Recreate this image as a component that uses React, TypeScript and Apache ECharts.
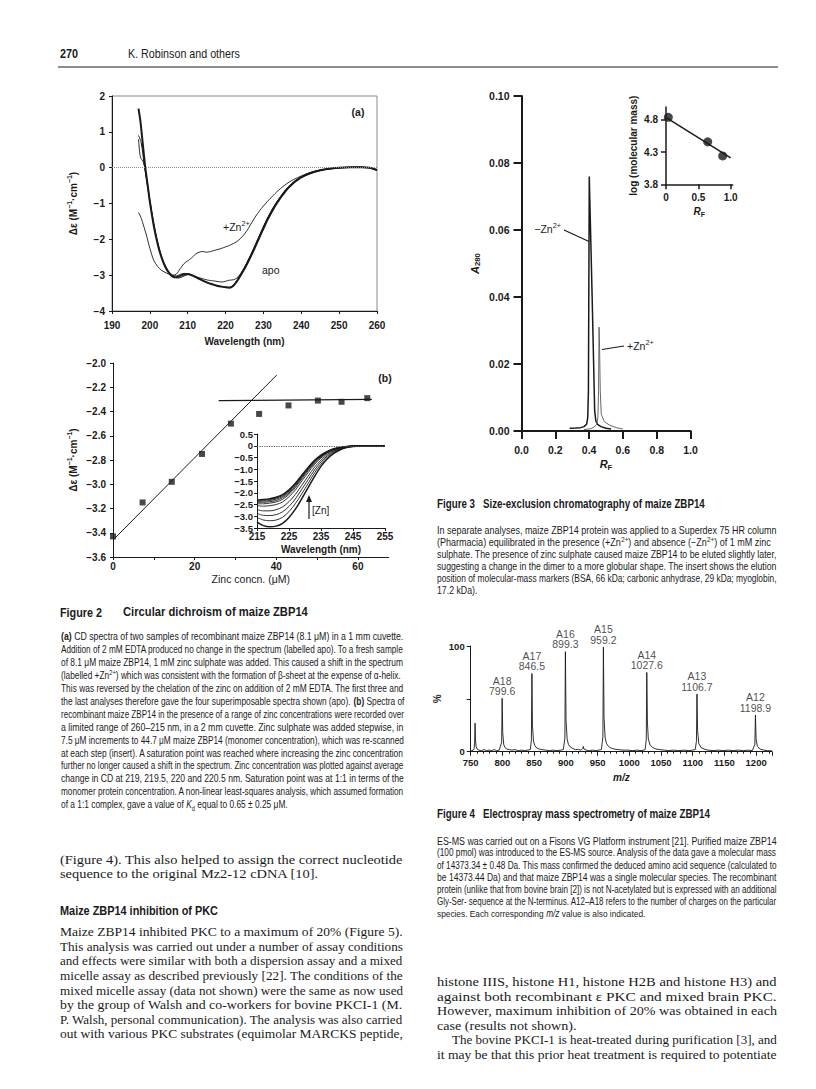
import React, { useEffect, useRef } from 'react';
import * as echarts from 'echarts';

// ---------------- DATA ----------------
// Figure 2(a): CD spectra [wavelength nm, delta-epsilon]
const fig2aApoA = [[197,1.65],[197.5,1.3],[198,0.8],[198.8,0],[199.5,-0.55],[200,-0.95],[201,-1.6],[202,-2.1],[203,-2.48],[204,-2.75],[205,-2.93],[206,-3.04],[207,-3.06],[208,-3.02],[209,-2.98],[210,-2.97],[211,-3.0],[212,-3.05],[213,-3.1],[214,-3.15],[215,-3.2],[216,-3.24],[217,-3.27],[218,-3.3],[219,-3.32],[220,-3.34],[221,-3.35],[222,-3.3],[223,-3.17],[224,-3.0],[225,-2.82],[226,-2.62],[227,-2.4],[228,-2.17],[229,-1.93],[230,-1.7],[231,-1.47],[232,-1.27],[233,-1.08],[234,-0.92],[235,-0.77],[236,-0.63],[237,-0.52],[238,-0.42],[239,-0.34],[240,-0.27],[242,-0.17],[244,-0.1],[246,-0.05],[248,-0.02],[250,0],[253,0.01],[256,0.01],[258,0],[260,-0.07]];
const fig2aApoB = [[197,0.9],[197.7,0.7],[198.5,0.1],[199.5,-0.6],[200.5,-1.25],[201.5,-1.85],[202.5,-2.3],[203.5,-2.62],[204.5,-2.85],[205.5,-2.98],[206.5,-3.05],[207.5,-3.08],[208.5,-3.05],[209.5,-3.0],[210.5,-2.98],[211.5,-3.02],[212.5,-3.08],[213.5,-3.13],[214.5,-3.18],[215.5,-3.22],[216.5,-3.26],[217.5,-3.29],[218.5,-3.31],[219.5,-3.33],[220.5,-3.34],[221.5,-3.32],[222.5,-3.22],[223.5,-3.06],[224.5,-2.88],[225.5,-2.68],[226.5,-2.46],[227.5,-2.24],[228.5,-2.0],[229.5,-1.77],[230.5,-1.54],[231.5,-1.33],[232.5,-1.14],[233.5,-0.97],[234.5,-0.82],[235.5,-0.68],[236.5,-0.56],[237.5,-0.46],[238.5,-0.37],[240,-0.27],[242,-0.18],[244,-0.11],[246,-0.06],[248,-0.02],[250,0],[254,0.01],[258,0],[260,-0.08]];
const fig2aApoC = [[197,0.8],[197.5,0.3],[198.3,0.15],[199,-0.2],[200,-0.9],[201,-1.55],[202,-2.05],[203,-2.45],[204,-2.72],[205,-2.9],[206,-3.0],[207,-3.02],[208,-2.98],[209,-2.95],[210,-2.96],[211,-2.99],[212,-3.03],[213,-3.07],[214,-3.1],[215,-3.13],[216,-3.15],[217,-3.16],[218,-3.18],[219,-3.19],[220,-3.17],[221,-3.14],[222,-3.13],[223,-3.08],[224,-2.95],[225,-2.78],[226,-2.58],[227,-2.36],[228,-2.12],[229,-1.88],[230,-1.64],[231,-1.42],[232,-1.22],[233,-1.04],[234,-0.88],[235,-0.73],[236,-0.6],[237,-0.49],[238,-0.39],[240,-0.25],[242,-0.15],[244,-0.09],[246,-0.05],[248,-0.03],[250,-0.01],[254,0.01],[258,0],[260,-0.06]];
const fig2aZn = [[197,-1.25],[197.5,-1.35],[198,-1.5],[199,-1.85],[200,-2.25],[201,-2.58],[202,-2.75],[203,-2.86],[204,-2.92],[205,-2.97],[206,-3.0],[207,-2.97],[208,-2.82],[209,-2.68],[210,-2.6],[211,-2.52],[212,-2.42],[213,-2.36],[214,-2.34],[215,-2.36],[216,-2.34],[217,-2.31],[218,-2.28],[219,-2.25],[220,-2.21],[221,-2.17],[222,-2.12],[223,-2.06],[224,-1.97],[225,-1.85],[226,-1.7],[227,-1.52],[228,-1.35],[229,-1.2],[230,-1.07],[231,-0.95],[232,-0.84],[233,-0.73],[234,-0.63],[235,-0.54],[236,-0.46],[237,-0.39],[238,-0.33],[240,-0.23],[242,-0.15],[244,-0.09],[246,-0.05],[248,-0.02],[250,0],[254,0.01],[258,0],[260,-0.06]];

// Figure 2(b): titration
const fig2bConc = [0, 7.25, 14.4, 21.8, 28.9, 35.8, 43.0, 50.2, 56.0, 62.3];
const fig2bDeltaEps = [-3.43, -3.15, -2.98, -2.75, -2.5, -2.42, -2.35, -2.31, -2.32, -2.29];
const fig2bFitRise = [[0, -3.46], [40.1, -2.1]];
const fig2bFitPlateau = [[25.9, -2.31], [63.4, -2.3]];

// Figure 2(b) insert: spectra at increasing [Zn]
const insetWavelengths = [215,217,219,221,223,225,227,229,231,233,235,237,239,241,243,245,250,255];
const insetSpectra = [
  [-3.25,-3.40,-3.45,-3.42,-3.30,-3.05,-2.70,-2.25,-1.78,-1.30,-0.88,-0.55,-0.32,-0.17,-0.08,-0.03,0,0],
  [-3.05,-3.16,-3.19,-3.16,-3.04,-2.80,-2.46,-2.04,-1.60,-1.15,-0.78,-0.48,-0.28,-0.15,-0.07,-0.03,0,0],
  [-2.88,-2.96,-2.97,-2.93,-2.81,-2.58,-2.26,-1.85,-1.44,-1.03,-0.69,-0.43,-0.24,-0.13,-0.06,-0.02,0,0],
  [-2.72,-2.77,-2.77,-2.72,-2.60,-2.38,-2.07,-1.68,-1.29,-0.91,-0.61,-0.37,-0.21,-0.11,-0.05,-0.02,0,0],
  [-2.55,-2.57,-2.55,-2.50,-2.39,-2.17,-1.88,-1.50,-1.14,-0.79,-0.52,-0.32,-0.18,-0.095,-0.04,-0.015,0,0],
  [-2.47,-2.47,-2.44,-2.39,-2.28,-2.07,-1.78,-1.41,-1.06,-0.73,-0.48,-0.29,-0.16,-0.09,-0.04,-0.01,0,0],
  [-2.42,-2.41,-2.38,-2.33,-2.21,-2.01,-1.72,-1.36,-1.01,-0.69,-0.45,-0.27,-0.15,-0.08,-0.04,-0.01,0,0],
  [-2.38,-2.36,-2.33,-2.27,-2.16,-1.96,-1.67,-1.32,-0.98,-0.66,-0.43,-0.26,-0.14,-0.075,-0.035,-0.01,0,0],
  [-2.35,-2.32,-2.29,-2.23,-2.12,-1.92,-1.63,-1.28,-0.95,-0.64,-0.41,-0.25,-0.135,-0.07,-0.03,-0.01,0,0],
  [-2.32,-2.29,-2.25,-2.19,-2.08,-1.88,-1.60,-1.25,-0.92,-0.62,-0.40,-0.24,-0.13,-0.07,-0.03,-0.01,0,0],
];

// Figure 3: size-exclusion chromatography [RF, A280]
const fig3MinusZn = [[0.285,0.0008],[0.32,0.0009],[0.35,0.001],[0.37,0.0013],[0.385,0.002],[0.392,0.004],[0.396,0.012],[0.399,0.05],[0.401,0.076],[0.418,0.04],[0.433,0.006],[0.44,0.003],[0.45,0.002],[0.47,0.0013],[0.5,0.0008],[0.53,0.0006]];
const fig3PlusZn = [[0.37,0.0004],[0.41,0.0007],[0.43,0.0012],[0.445,0.002],[0.452,0.004],[0.456,0.012],[0.459,0.031],[0.462,0.025],[0.466,0.012],[0.472,0.005],[0.49,0.0028],[0.52,0.0018],[0.56,0.001],[0.6,0.0006]];
// Figure 3 insert: molecular-mass markers
const markerRF = [0.036, 0.645, 0.876];
const markerLogMass = [4.84, 4.46, 4.24];
const markerFit = [[0.01, 4.83], [1.0, 4.21]];

// Figure 4: ES-MS spectrum [m/z, %]
const fig4Spectrum = [[750,0.5],[752,1],[754,1.5],[755.5,3],[756.3,10],[756.9,27],[757.5,12],[758.5,5],[760,2.5],[763,1.5],[767,1],[771,2],[775,1],[779,1.5],[783,1],[787,2],[791,1],[795,1.5],[798.8,9],[799.6,50.5],[800.5,18],[802,7],[804,4],[807,2.5],[811,2],[815,1.5],[820,2],[825,1],[830,1.5],[835,1],[840,1.5],[844,2],[845.7,11],[846.5,74],[847.4,25],[849,10],[851,6],[854,3.5],[858,2.5],[862,2],[868,1.5],[874,1],[880,1.5],[886,1],[892,1.5],[896,2],[898.5,13],[899.3,94.6],[900.3,30],[902,12],[904,7],[907,4.5],[911,3],[915,2],[920,2],[924,1.5],[926.5,3],[927.5,5],[928.5,2.5],[932,1.5],[937,1],[942,1.5],[947,1],[952,1.5],[956,2],[958.4,14],[959.2,99],[960.2,32],[962,13],[964,8],[967,5],[971,3.5],[976,2.5],[982,2],[990,1.5],[998,1.5],[1005,1],[1012,1.5],[1020,1],[1025,2],[1026.8,12],[1027.6,75],[1028.6,28],[1030,12],[1033,6],[1037,4],[1042,2.5],[1048,2],[1055,1.5],[1062,1],[1070,1.5],[1078,1],[1086,1.5],[1094,1],[1100,1.5],[1104,2],[1105.9,10],[1106.7,54.6],[1107.7,20],[1109.5,8],[1113,4],[1118,2.5],[1124,1.5],[1132,1],[1140,1.5],[1148,1],[1156,1.5],[1164,1],[1172,1.5],[1180,1],[1188,1.5],[1194,1],[1198,7],[1198.9,34.7],[1199.9,12],[1202,5],[1206,2.5],[1212,1.5],[1218,1],[1225,0.8]];
const fig4Ions = ['A18','A17','A16','A15','A14','A13','A12'];
const fig4PeakMz = [799.6, 846.5, 899.3, 959.2, 1027.6, 1106.7, 1198.9];
const fig4PeakPct = [50.5, 74, 94.6, 99, 75, 54.6, 34.7];

// Tick labels
const fig2bTickValues = [0, 10, 20, 30, 40, 50, 60];
const fig2bLabelValues = [0, 20, 40, 60];
const insetXTicks = [215, 225, 235, 245, 255];
const fig3InsetX = [0, 0.5, 1.0];
const fig3InsetY = [3.8, 4.3, 4.8];
const fig4YTicks = [0, 50, 100];
const fig4YLabels = [0, 100];

// Texts
const pageNumber = '270';
const runningHead = 'K. Robinson and others';
const fig2Title = 'Circular dichroism of maize ZBP14';
const fig3Title = 'Size-exclusion chromatography of maize ZBP14';
const fig4Title = 'Electrospray mass spectrometry of maize ZBP14';
const fig2Caption = [
  '{b|(a)} CD spectra of two samples of recombinant maize ZBP14 (8.1 μM) in a 1 mm cuvette.',
  'Addition of 2 mM EDTA produced no change in the spectrum (labelled apo). To a fresh sample',
  'of 8.1 μM maize ZBP14, 1 mM zinc sulphate was added. This caused a shift in the spectrum',
  '(labelled +Zn{sup|2+}) which was consistent with the formation of β-sheet at the expense of α-helix.',
  'This was reversed by the chelation of the zinc on addition of 2 mM EDTA. The first three and',
  'the last analyses therefore gave the four superimposable spectra shown (apo). {b|(b)} Spectra of',
  'recombinant maize ZBP14 in the presence of a range of zinc concentrations were recorded over',
  'a limited range of 260–215 nm, in a 2 mm cuvette. Zinc sulphate was added stepwise, in',
  '7.5 μM increments to 44.7 μM maize ZBP14 (monomer concentration), which was re-scanned',
  'at each step (insert). A saturation point was reached where increasing the zinc concentration',
  'further no longer caused a shift in the spectrum. Zinc concentration was plotted against average',
  'change in CD at 219, 219.5, 220 and 220.5 nm. Saturation point was at 1:1 in terms of the',
  'monomer protein concentration. A non-linear least-squares analysis, which assumed formation',
  'of a 1:1 complex, gave a value of {i|K}{sub|d} equal to 0.65 ± 0.25 μM.',
];
const fig3Caption = [
  'In separate analyses, maize ZBP14 protein was applied to a Superdex 75 HR column',
  '(Pharmacia) equilibrated in the presence (+Zn{sup|2+}) and absence (−Zn{sup|2+}) of 1 mM zinc',
  'sulphate. The presence of zinc sulphate caused maize ZBP14 to be eluted slightly later,',
  'suggesting a change in the dimer to a more globular shape. The insert shows the elution',
  'position of molecular-mass markers (BSA, 66 kDa; carbonic anhydrase, 29 kDa; myoglobin,',
  '17.2 kDa).',
];
const fig4Caption = [
  'ES-MS was carried out on a Fisons VG Platform instrument [21]. Purified maize ZBP14',
  '(100 pmol) was introduced to the ES-MS source. Analysis of the data gave a molecular mass',
  'of 14373.34 ± 0.48 Da. This mass confirmed the deduced amino acid sequence (calculated to',
  'be 14373.44 Da) and that maize ZBP14 was a single molecular species. The recombinant',
  'protein (unlike that from bovine brain [2]) is not N-acetylated but is expressed with an additional',
  'Gly-Ser- sequence at the N-terminus. A12–A18 refers to the number of charges on the particular',
  'species. Each corresponding {i|m/z} value is also indicated.',
];
const leftBodyTop = [
  '(Figure 4). This also helped to assign the correct nucleotide',
  'sequence to the original Mz2-12 cDNA [10].',
];
const sectionHeading = 'Maize ZBP14 inhibition of PKC';
const leftBodyMain = [
  'Maize ZBP14 inhibited PKC to a maximum of 20% (Figure 5).',
  'This analysis was carried out under a number of assay conditions',
  'and effects were similar with both a dispersion assay and a mixed',
  'micelle assay as described previously [22]. The conditions of the',
  'mixed micelle assay (data not shown) were the same as now used',
  'by the group of Walsh and co-workers for bovine PKCI-1 (M.',
  'P. Walsh, personal communication). The analysis was also carried',
  'out with various PKC substrates (equimolar MARCKS peptide,',
];
const rightBody = [
  'histone IIIS, histone H1, histone H2B and histone H3) and',
  'against both recombinant ε PKC and mixed brain PKC.',
  'However, maximum inhibition of 20% was obtained in each',
  'case (results not shown).',
  'The bovine PKCI-1 is heat-treated during purification [3], and',
  'it may be that this prior heat treatment is required to potentiate',
];

// ---------------- STYLE ----------------
const INK = '#1a1a1a';
const SANS = "'Liberation Sans', Arial, Helvetica, sans-serif";
const SERIF = "'Liberation Serif', 'Times New Roman', serif";

let measureCtx: CanvasRenderingContext2D | null = null;
function measure(text: string, fs: number, family: string, weight = 'normal') {
  if (!measureCtx) measureCtx = document.createElement('canvas').getContext('2d');
  const plain = text.replace(/\{[a-z]+\|([^}]*)\}/g, '$1');
  if (!measureCtx) return plain.length * fs * 0.5;
  measureCtx.font = `${weight} ${fs}px ${family}`;
  return measureCtx.measureText(plain).width;
}

function richFor(fs: number, family: string) {
  return {
    b: { fontSize: fs, fontFamily: family, fontWeight: 'bold', fill: INK },
    i: { fontSize: fs, fontFamily: family, fontStyle: 'italic', fill: INK },
    sup: { fontSize: fs * 0.7, fontFamily: family, verticalAlign: 'top', fill: INK, lineHeight: fs * 1.3 },
    sub: { fontSize: fs * 0.7, fontFamily: family, verticalAlign: 'bottom', fill: INK, lineHeight: fs * 1.3 },
  };
}

function textEl(text: string, x: number, y: number, fs: number, family: string, scaleX = 1, extra: any = {}) {
  return {
    type: 'text', x, y, scaleX, silent: true,
    style: {
      text, fontSize: fs, fontFamily: family, fill: INK, verticalAlign: 'middle', align: 'left',
      lineHeight: fs * 1.3, rich: richFor(fs, family), ...extra,
    },
  };
}

// fit a text between x and right (used for titles / running head)
function fitted(text: string, x: number, right: number, y: number, fs: number, family: string, weight = 'normal') {
  const w = measure(text, fs, family, weight);
  return textEl(text, x, y, fs, family, (right - x) / w, { fontWeight: weight });
}

// justified block: each line is stretched to the column width, except the listed free lines
function block(arr: string[], x: number, right: number, y0: number, dy: number, fs: number, family: string,
  free: number[] = [], indents: Record<number, number> = {}) {
  const scales = arr.map((t, i) => ((right - x - (indents[i] || 0)) / measure(t, fs, family)));
  const just = scales.filter((_, i) => !free.includes(i));
  const base = just.length ? just.reduce((a, b) => a + b, 0) / just.length : 1;
  return arr.map((t, i) => textEl(t, x + (indents[i] || 0), y0 + i * dy, fs, family, free.includes(i) ? base : scales[i]));
}

function axis(o: any) {
  const lw = o.lw ?? 1;
  const label: any = { color: INK, fontFamily: SANS, fontSize: o.fs ?? 10, fontWeight: 'bold', margin: o.margin ?? 8 };
  label.formatter = o.fmt ?? ((v: number) => String(v));
  if (o.labelValues) label.customValues = o.labelValues;
  if (o.hideMax) label.showMaxLabel = false;
  const tick: any = { show: true, inside: false, length: o.tl ?? 3, lineStyle: { color: INK, width: lw } };
  if (o.tickValues) tick.customValues = o.tickValues;
  const a: any = {
    type: 'value', gridIndex: o.grid, min: o.min, max: o.max,
    splitLine: { show: false },
    axisLine: { show: true, onZero: false, lineStyle: { color: INK, width: lw } },
    axisTick: tick,
    axisLabel: label,
    name: o.name ?? '',
    nameLocation: 'middle',
    nameGap: o.nameGap ?? 20,
    nameTextStyle: { color: INK, fontFamily: SANS, fontSize: o.nfs ?? 10, fontWeight: o.nfw ?? 'bold', rich: o.nrich, lineHeight: 14 },
  };
  if (o.interval !== undefined) a.interval = o.interval;
  if (o.minor) a.minorTick = o.minor;
  return a;
}

const minusFmt = (digits: number) => (v: number) => {
  if (Math.abs(v) < 1e-9) return digits === 0 ? '0' : (0).toFixed(digits);
  return (v < 0 ? '−' : '') + Math.abs(v).toFixed(digits);
};

function buildOption() {
  const nameRich = (fs: number) => ({
    i: { fontFamily: SANS, fontSize: fs, fontStyle: 'italic', fontWeight: 'bold', color: INK },
    n: { fontFamily: SANS, fontSize: fs, color: INK },
    sup: { fontFamily: SANS, fontSize: fs * 0.7, verticalAlign: 'top', color: INK, lineHeight: 14 },
    sub: { fontFamily: SANS, fontSize: fs * 0.7, verticalAlign: 'bottom', color: INK, lineHeight: 14 },
  });

  const grid = [
    { left: 112, top: 96, width: 265, height: 215, show: true, borderColor: '#8a8a8a', borderWidth: 1 },
    { left: 113, top: 363, width: 275.5, height: 194 },
    { left: 257, top: 434, width: 128, height: 94 },
    { left: 521.5, top: 96, width: 169, height: 335 },
    { left: 666, top: 107, width: 66.6, height: 77.3 },
    { left: 470.7, top: 646, width: 301.3, height: 105.7 },
  ];

  const xAxis = [
    axis({ grid: 0, min: 190, max: 260, interval: 10, margin: 9, name: 'Wavelength (nm)', nameGap: 23 }),
    axis({ grid: 1, min: 0, max: 67.5, tickValues: fig2bTickValues, labelValues: fig2bLabelValues, margin: 4, name: 'Zinc concn. (μM)', nameGap: 15, nfw: 'normal', nfs: 10.5 }),
    axis({ grid: 2, min: 215, max: 255, tickValues: insetXTicks, labelValues: insetXTicks, margin: 3, name: 'Wavelength (nm)', nameGap: 14, fs: 10 }),
    axis({ grid: 3, min: 0, max: 1, interval: 0.2, lw: 2, tl: 8, margin: 13, fs: 10.5, fmt: (v: number) => v.toFixed(1), name: '{i|R}{sub|F}', nameGap: 26, nrich: nameRich(11) }),
    axis({ grid: 4, min: 0, max: 1.03, tickValues: fig3InsetX, labelValues: fig3InsetX, lw: 1.5, tl: 5, margin: 8, fs: 10, fmt: (v: number) => (v === 0 ? '0' : v.toFixed(1)), name: '{i|R}{sub|F}', nameGap: 20, nrich: nameRich(10) }),
    axis({ grid: 5, min: 750, max: 1225, interval: 50, hideMax: true, margin: 6, fs: 9.5, tl: 4, minor: { show: true, splitNumber: 5, length: 2, lineStyle: { color: INK } }, name: '{i|m/z}', nameGap: 19, nrich: nameRich(10) }),
  ];

  const yAxis = [
    axis({ grid: 0, min: -4, max: 2, interval: 1, margin: 7, fmt: minusFmt(0), name: '{n|Δε (M}{sup|−1}{n|·cm}{sup|−1}{n|)}', nameGap: 32, nrich: nameRich(10) }),
    axis({ grid: 1, min: -3.6, max: -2.0, interval: 0.2, margin: 7, fmt: minusFmt(1), name: '{n|Δε (M}{sup|−1}{n|·cm}{sup|−1}{n|)}', nameGap: 33, nrich: nameRich(10) }),
    axis({ grid: 2, min: -3.5, max: 0.5, interval: 0.5, margin: 4, fs: 9.5, fmt: (v: number) => (Math.abs(v) < 1e-9 ? '0' : minusFmt(1)(v)) }),
    axis({ grid: 3, min: 0, max: 0.1, interval: 0.02, lw: 2, tl: 8, margin: 12, fs: 10.5, fmt: (v: number) => v.toFixed(2), name: '{i|A}{sub|280}', nameGap: 40, nrich: nameRich(11) }),
    axis({ grid: 4, min: 3.8, max: 5.0, tickValues: fig3InsetY, labelValues: fig3InsetY, lw: 1.5, tl: 5, margin: 8, fs: 10, fmt: (v: number) => v.toFixed(1), name: 'log (molecular mass)', nameGap: 26, nfs: 10 }),
    axis({ grid: 5, min: 0, max: 100, tickValues: fig4YTicks, labelValues: fig4YLabels, margin: 6, fs: 9.5, tl: 4, name: '%', nameGap: 14 }),
  ];

  const cdLine = (data: number[][], w: number, extra: any = {}) => ({
    type: 'line', xAxisIndex: 0, yAxisIndex: 0, data, showSymbol: false, symbol: 'none', smooth: 0.3,
    lineStyle: { color: INK, width: w }, silent: true, ...extra,
  });

  const series: any[] = [
    cdLine(fig2aApoA, 2, {
      markLine: { silent: true, symbol: 'none', label: { show: false }, lineStyle: { color: '#888', type: 'dotted', width: 1 }, data: [{ yAxis: 0 }] },
      z: 3,
    }),
    cdLine(fig2aApoB, 1),
    cdLine(fig2aApoC, 0.9),
    cdLine(fig2aZn, 0.9),
    {
      type: 'scatter', xAxisIndex: 1, yAxisIndex: 1, symbol: 'rect', symbolSize: 6, silent: true,
      itemStyle: { color: INK }, data: fig2bConc.map((c, i) => [c, fig2bDeltaEps[i]]),
    },
    { type: 'line', xAxisIndex: 1, yAxisIndex: 1, data: fig2bFitRise, symbol: 'none', silent: true, lineStyle: { color: INK, width: 1 } },
    { type: 'line', xAxisIndex: 1, yAxisIndex: 1, data: fig2bFitPlateau, symbol: 'none', silent: true, lineStyle: { color: INK, width: 1.2 } },
  ];
  insetSpectra.forEach((curve, k) => {
    series.push({
      type: 'line', xAxisIndex: 2, yAxisIndex: 2, symbol: 'none', smooth: 0.35, silent: true,
      data: insetWavelengths.map((w, i) => [w, curve[i]]),
      lineStyle: { color: INK, width: k === 0 || k === insetSpectra.length - 1 ? 1.5 : 0.9 },
      markLine: k === 0 ? { silent: true, symbol: 'none', label: { show: false }, lineStyle: { color: '#555', type: 'dotted', width: 1.2 }, data: [{ yAxis: 0 }] } : undefined,
    });
  });
  series.push(
    { type: 'line', xAxisIndex: 3, yAxisIndex: 3, data: fig3MinusZn, symbol: 'none', silent: true, lineStyle: { color: INK, width: 1.5 } },
    { type: 'line', xAxisIndex: 3, yAxisIndex: 3, data: fig3PlusZn, symbol: 'none', silent: true, lineStyle: { color: '#666', width: 1 } },
    { type: 'line', xAxisIndex: 4, yAxisIndex: 4, data: markerFit, symbol: 'none', silent: true, lineStyle: { color: INK, width: 1.5 } },
    { type: 'scatter', xAxisIndex: 4, yAxisIndex: 4, symbolSize: 9, silent: true, itemStyle: { color: INK }, data: markerRF.map((r, i) => [r, markerLogMass[i]]) },
    { type: 'line', xAxisIndex: 5, yAxisIndex: 5, data: fig4Spectrum, symbol: 'none', silent: true, lineStyle: { color: INK, width: 0.9 } },
    {
      type: 'scatter', xAxisIndex: 5, yAxisIndex: 5, symbolSize: 0, silent: true,
      data: fig4PeakMz.map((m, i) => ({ value: [m, fig4PeakPct[i]], name: fig4Ions[i] })),
      label: {
        show: true, position: 'top', distance: 2, color: INK, fontFamily: SANS, fontSize: 10.5, lineHeight: 10.5,
        formatter: (p: any) => p.name + '\n' + p.value[0].toFixed(1),
      },
    },
  );

  const supRich = (fs: number) => ({
    n: { fontFamily: SANS, fontSize: fs, fill: INK },
    sup: { fontFamily: SANS, fontSize: fs * 0.7, verticalAlign: 'top', fill: INK, lineHeight: fs * 1.4 },
  });
  const annot = (text: string, x: number, y: number, fs: number, align = 'left', weight = 'normal') => ({
    type: 'text', x, y, silent: true,
    style: { text, fontFamily: SANS, fontSize: fs, fontWeight: weight, fill: INK, align, verticalAlign: 'middle', lineHeight: fs * 1.4, rich: supRich(fs) },
  });

  const graphic: any[] = [
    // running head
    fitted(pageNumber, 60, 78, 54, 13, SANS, 'bold'),
    fitted(runningHead, 128, 240, 54, 13, SANS),
    { type: 'line', silent: true, shape: { x1: 58, y1: 67, x2: 778, y2: 67 }, style: { stroke: INK, lineWidth: 1 } },
    // figure annotations
    annot('(a)', 358, 112, 10.5, 'center', 'bold'),
    annot('{n|+Zn}{sup|2+}', 223, 227, 10.5),
    annot('apo', 262, 269.5, 10.5),
    annot('(b)', 385, 378, 10.5, 'center', 'bold'),
    annot('[Zn]', 312, 510, 10),
    { type: 'line', silent: true, shape: { x1: 309, y1: 519, x2: 309, y2: 500 }, style: { stroke: INK, lineWidth: 1.2 } },
    { type: 'polygon', silent: true, shape: { points: [[306, 502], [312, 502], [309, 495]] }, style: { fill: INK } },
    annot('{n|−Zn}{sup|2+}', 561, 229, 10.5, 'right'),
    { type: 'line', silent: true, shape: { x1: 564, y1: 230, x2: 589, y2: 241.5 }, style: { stroke: INK, lineWidth: 1.2 } },
    annot('{n|+Zn}{sup|2+}', 627, 346, 10.5),
    { type: 'line', silent: true, shape: { x1: 602, y1: 349.5, x2: 624, y2: 346 }, style: { stroke: INK, lineWidth: 1.2 } },
    // captions
    fitted('Figure 2', 60, 102, 612, 12.5, SANS, 'bold'),
    fitted(fig2Title, 123, 308, 612, 12.5, SANS, 'bold'),
    ...block(fig2Caption, 61, 404, 636.7, 12.95, 10, SANS, [13]),
    fitted('Figure 3', 437, 475, 503.5, 12.5, SANS, 'bold'),
    fitted(fig3Title, 483, 705, 503.5, 12.5, SANS, 'bold'),
    ...block(fig3Caption, 437, 777, 530, 12.15, 10, SANS, [5]),
    fitted('Figure 4', 437, 475, 813.5, 12.5, SANS, 'bold'),
    fitted(fig4Title, 483, 710, 813.5, 12.5, SANS, 'bold'),
    ...block(fig4Caption, 437, 777, 841, 12.2, 10, SANS, [6]),
    // body text
    ...block(leftBodyTop, 60, 403, 860, 14, 13, SERIF, [1]),
    fitted(sectionHeading, 60, 218, 910, 12.5, SANS, 'bold'),
    ...block(leftBodyMain, 60, 403, 931.7, 14.6, 13, SERIF),
    ...block(rightBody, 437, 777, 981.7, 14.5, 13, SERIF, [3], { 4: 15 }),
  ];

  return {
    animation: false,
    backgroundColor: '#ffffff',
    grid, xAxis, yAxis, series, graphic,
  };
}

export default function App() {
  const ref = useRef<HTMLDivElement>(null);
  useEffect(() => {
    if (!ref.current) return;
    const chart = echarts.init(ref.current, null, { renderer: 'svg' });
    chart.setOption(buildOption() as any);
    return () => chart.dispose();
  }, []);
  return (
    <div
      ref={ref}
      style={{ position: 'absolute', left: 0, top: 0, width: 816, height: 1089, background: '#fff' }}
    />
  );
}
